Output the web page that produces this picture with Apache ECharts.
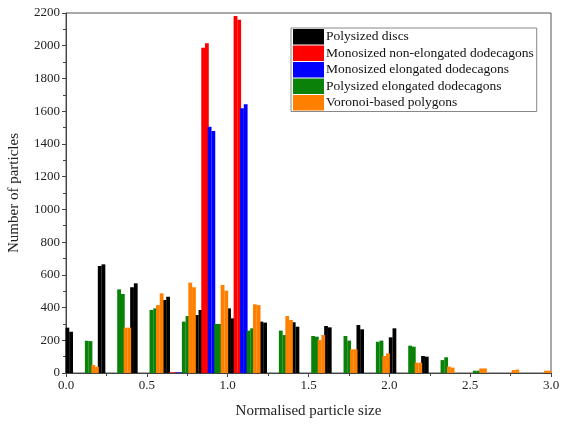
<!DOCTYPE html>
<html>
<head>
<meta charset="utf-8">
<script src="https://cdn.jsdelivr.net/npm/echarts@6/dist/echarts.min.js"></script>
<style>
  html, body { margin: 0; padding: 0; background: #fff; }
  #chart { width: 562px; height: 428px; }
</style>
</head>
<body>
<div id="chart"></div>
<script>
// legend names
const seriesNames = [
  'Polysized discs',
  'Monosized non-elongated dodecagons',
  'Monosized elongated dodecagons',
  'Polysized elongated dodecagons',
  'Voronoi-based polygons'
];
const seriesColors = ['#000000', '#ff0000', '#0000ff', '#0a820a', '#ff8000'];

// bin centres (normalised size) per series
const discX = [0.02, 0.22, 0.42, 0.62, 0.82, 1.02, 1.22, 1.42, 1.62, 1.82, 2.02, 2.22];
const monoX = [0.66, 0.86, 1.06];
const monoElX = [0.70, 0.90, 1.10];
const elongX = [0.14, 0.34, 0.54, 0.74, 0.94, 1.14, 1.34, 1.54, 1.74, 1.94, 2.14, 2.34, 2.54];
const voronoiX = [0.18, 0.38, 0.58, 0.78, 0.98, 1.18, 1.38, 1.58, 1.78, 1.98, 2.18, 2.38, 2.58, 2.78, 2.98];

// each bar in the figure is drawn as two halves: [left, right] counts
const discVals = [[277, 252], [654, 664], [524, 548], [446, 466], [354, 385], [395, 334], [314, 308], [310, 283], [287, 279], [293, 267], [218, 273], [104, 100]];
const monoVals = [[4, 4], [1988, 2015], [2182, 2158]];
const monoElVals = [[4, 4], [1505, 1479], [1618, 1642]];
const elongVals = [[197, 195], [511, 483], [385, 395], [314, 348], [300, 300], [259, 273], [259, 232], [226, 222], [226, 198], [191, 198], [167, 161], [79, 96], [14, 14]];
const voronoiVals = [[49, 38], [277, 277], [415, 487], [552, 524], [538, 503], [420, 415], [348, 324], [202, 232], [145, 145], [104, 120], [63, 63], [39, 33], [28, 28], [18, 21], [14, 14]];

const halfStep = 0.0115;

function halves(xs, vals) {
  const out = [];
  xs.forEach((x, i) => {
    out.push([x - halfStep, vals[i][0]]);
    out.push([x + halfStep, vals[i][1]]);
  });
  return out;
}

const allX = [discX, monoX, monoElX, elongX, voronoiX];
const allVals = [discVals, monoVals, monoElVals, elongVals, voronoiVals];

const serif = 'Liberation Serif';
const chart = echarts.init(document.getElementById('chart'));

chart.setOption({
  animation: false,
  textStyle: { fontFamily: serif },
  grid: {
    left: 66, right: 11, top: 13, bottom: 55,
    containLabel: false,
    outerBoundsMode: 'none',
    show: true, borderColor: '#555', borderWidth: 1
  },
  legend: {
    orient: 'vertical',
    left: 291, top: 28,
    data: seriesNames,
    icon: 'rect',
    itemWidth: 31, itemHeight: 15.5, itemGap: 1,
    padding: [1, 3, 1, 2],
    borderColor: '#888', borderWidth: 1,
    backgroundColor: '#fff',
    textStyle: { fontFamily: serif, fontSize: 13.5, color: '#111', padding: [0, 0, 0, -3] }
  },
  xAxis: {
    type: 'value',
    min: 0, max: 3, interval: 0.5,
    name: 'Normalised particle size',
    nameLocation: 'middle', nameGap: 31,
    nameTextStyle: { fontFamily: serif, fontSize: 15, color: '#222' },
    axisLine: { lineStyle: { color: '#444' } },
    axisTick: { inside: false, length: 4, lineStyle: { color: '#444' } },
    minorTick: { show: true, splitNumber: 2, length: 3, lineStyle: { color: '#444' } },
    axisLabel: { fontFamily: serif, fontSize: 13, color: '#222', formatter: v => v.toFixed(1), margin: 6 },
    splitLine: { show: false }
  },
  yAxis: {
    type: 'value',
    min: 0, max: 2200, interval: 200,
    name: 'Number of particles',
    nameLocation: 'middle', nameGap: 44,
    nameTextStyle: { fontFamily: serif, fontSize: 15, color: '#222' },
    axisLine: { show: true, lineStyle: { color: '#444' } },
    axisTick: { show: true, inside: false, length: 4, lineStyle: { color: '#444' } },
    minorTick: { show: true, splitNumber: 2, length: 3, lineStyle: { color: '#444' } },
    axisLabel: { fontFamily: serif, fontSize: 13, color: '#222', margin: 6, formatter: v => String(v) },
    splitLine: { show: false }
  },
  series: seriesNames.map((name, i) => ({
    name: name,
    type: 'bar',
    barWidth: 3.8,
    barGap: '-100%',
    itemStyle: { color: seriesColors[i] },
    emphasis: { disabled: true },
    data: halves(allX[i], allVals[i])
  }))
});
</script>
</body>
</html>
